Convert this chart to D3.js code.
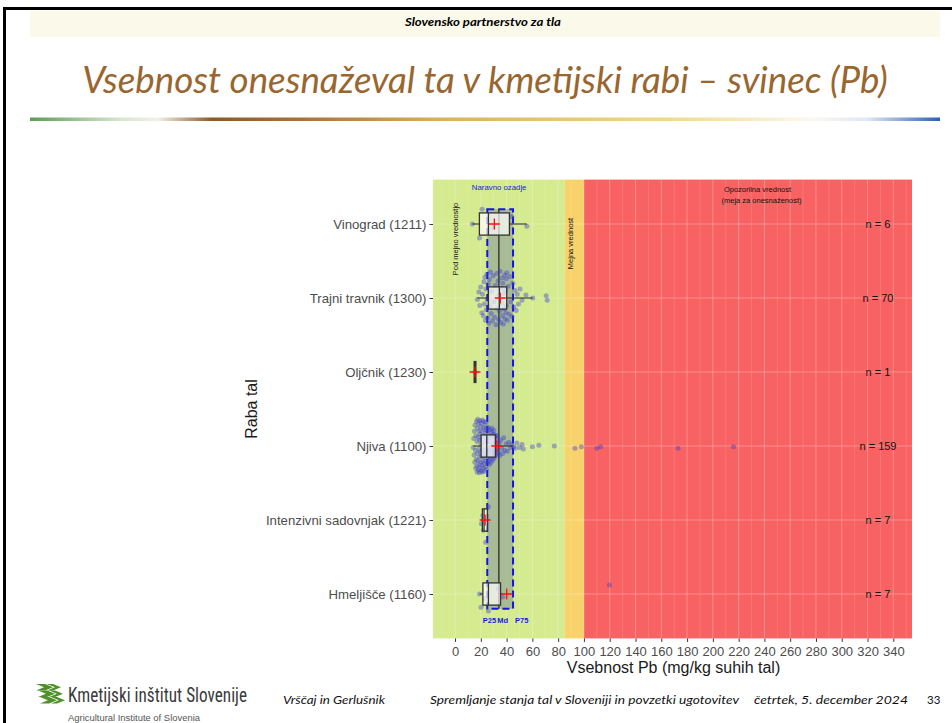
<!DOCTYPE html>
<html>
<head>
<meta charset="utf-8">
<title>Vsebnost onesnaževal - svinec (Pb)</title>
<style>
body { margin: 0; background: #ffffff; }
.slide { font-family: Lato, "Open Sans", sans-serif; }
.chart text { font-family: "Liberation Sans", Arial, sans-serif; }
</style>
<script src="https://d3js.org/d3.v7.min.js"></script>
</head>
<body>
<div id="slide"></div>
<script>
// land use categories (top to bottom) and sample counts
var categories = ["Vinograd (1211)", "Trajni travnik (1300)", "Oljčnik (1230)", "Njiva (1100)", "Intenzivni sadovnjak (1221)", "Hmeljišče (1160)"];
var counts = [6, 70, 1, 159, 7, 7];

// box plot statistics, Pb mg/kg
var whiskerLow  = [13.4, 17.3, 15.5, 14.2, 20.5, 19.0];
var q1          = [18.9, 25.9, 15.5, 20.2, 21.2, 21.6];
var median      = [25.9, 34.4, 15.5, 24.6, 22.5, 25.9];
var q3          = [42.2, 40.1, 15.5, 31.3, 25.1, 35.3];
var whiskerHigh = [55.7, 60.3, 15.5, 45.3, 25.9, 37.0];
var means       = [30.5, 35.1, 15.5, 32.4, 23.3, 40.1];

// natural background (P25, Md, P75) and limit values
var naturalP25 = 25, naturalMd = 34, naturalP75 = 45;
var limitValue = 85, warningValue = 100;

// x axis ticks
var xTicks = [0, 20, 40, 60, 80, 100, 120, 140, 160, 180, 200, 220, 240, 260, 280, 300, 320, 340];

// individual samples: [Pb value, vertical spread as share of row step]
var vinogradPts = [[13.4,0],[19,.19],[21,-.2],[30,.05],[44,-.1],[55.7,.03]];
var travnikPts = [
 [17.3,.02],[18.5,-.08],[19.2,.1],[20,-.15],[20.8,.2],[21.3,-.05],[21.9,.24],[22.4,-.22],[22.8,.08],[23.2,-.28],[23.6,.3],[24,-.12],[24.3,.16],[24.7,-.32],[25,.02],[25.3,.27],[25.7,-.19],
 [26.1,.34],[26.6,-.25],[27,.11],[27.5,-.35],[28,.21],[28.4,-.09],[29,.31],[29.5,-.3],[30,.05],[30.6,.26],[31.2,-.17],[31.8,.36],[32.3,-.33],[32.9,.14],[33.4,-.23],[33.9,.29],[34.3,-.04],
 [34.6,.18],[35,-.36],[35.3,.33],[35.7,-.13],[36,.07],[36.4,-.27],[36.8,.24],[37.1,-.2],[37.5,.35],[37.8,-.06],[38.1,.15],[38.5,-.31],[38.8,.28],[39.1,-.1],[39.4,.2],[39.7,-.26],[39.9,.1],[40.1,-.34],
 [40.6,.3],[41.2,-.16],[41.9,.22],[42.5,-.29],[43.3,.05],[44,.25],[44.8,-.2],[45.6,.12],[46.5,-.1],[47.4,.17],[48.3,-.05],[49.2,.08],[50.4,-.12],[52,.03],[55,-.04],[60.3,0],[70.7,-.03],[71.5,.03]];
var oljcnikPts = [[15.5,0]];
var njivaPts = [
 [14.2,.02],[14.5,-.1],[14.8,.12],[15,-.2],[15.3,.22],[15.5,-.28],[15.8,.06],[16,.3],[16.2,-.14],[16.4,.18],[16.6,-.33],[16.8,.27],[17,-.06],[17.1,.35],[17.3,-.24],[17.5,.1],[17.6,-.36],[17.8,.2],[18,-.12],[18.1,.32],[18.3,-.3],[18.4,.04],[18.6,.25],[18.7,-.2],[18.9,.36],[19,-.08],[19.1,.15],[19.3,-.34],[19.4,.29],[19.5,-.16],[19.7,.08],[19.8,-.26],[19.9,.22],[20,-.02],[20.1,.33],
 [20.3,-.31],[20.5,.14],[20.6,-.2],[20.8,.26],[20.9,-.09],[21.1,.35],[21.2,-.35],[21.4,.05],[21.5,.2],[21.7,-.25],[21.8,.3],[22,-.14],[22.1,.1],[22.3,-.33],[22.4,.24],[22.6,-.04],[22.7,.34],[22.9,-.22],[23,.16],[23.2,-.29],[23.3,.03],[23.5,.28],[23.6,-.17],[23.8,.21],[23.9,-.32],[24,.09],[24.1,-.1],[24.3,.31],[24.4,-.24],[24.5,.13],
 [24.8,-.2],[25,.23],[25.2,-.05],[25.5,.15],[25.7,-.25],[26,.08],[26.2,.2],[26.4,-.14],[26.7,.25],[27,-.22],[27.2,.02],[27.5,.17],[27.7,-.1],[28,.22],[28.2,-.19],[28.5,.06],[28.7,-.24],[29,.13],[29.2,-.03],[29.4,.19],[29.7,-.16],[29.9,.1],[30.1,-.21],[30.3,.04],[30.5,.16],[30.7,-.12],[30.9,.08],[31,-.06],[31.1,.13],[31.2,-.15],
 [31.6,.12],[32,-.1],[32.5,.05],[33,-.14],[33.6,.09],[34.2,-.04],[34.8,.13],[35.5,-.08],[36.2,.03],[37,.1],[37.8,-.11],[38.7,.06],[39.6,-.03],[40.6,.07],[41.7,-.05],[42.8,.02],[44,-.02],[45.3,.01],
 [46.5,.03],[48,-.04],[50,.02],[52,-.02],[53,.04],[60,.01],[65,-.01],[77,0],[93,.03],[98,.01],[110,.03],[113,.01],[173,.03],[216,.01]];
var sadovnjakPts = [[20.5,.05],[21.5,-.06],[22,.14],[22.5,-.02],[23.8,.3],[24.5,.04],[25.9,-.18]];
var hmeljPts = [[19,0],[20.2,.18],[23,.06],[25.9,.23],[33.6,-.07],[37,.04],[119.8,-.12]];
var pointSets = [vinogradPts, travnikPts, oljcnikPts, njivaPts, sadovnjakPts, hmeljPts];

var W = 952, H = 723;
var svg = d3.select("#slide").append("svg")
    .attr("width", W).attr("height", H)
    .attr("class", "slide");

// ---- slide frame and header ----
svg.append("path").attr("d", "M4.5,723V8.5H952").attr("fill", "none").attr("stroke", "#000").attr("stroke-width", 3);
svg.append("rect").attr("x", 30).attr("y", 11).attr("width", 910).attr("height", 26).attr("fill", "#fbf9ea");
svg.append("text").attr("x", 483).attr("y", 26).attr("text-anchor", "middle")
  .style("font-size", "10.5px").style("font-weight", "bold").style("font-style", "italic")
  .attr("textLength", 156).attr("lengthAdjust", "spacingAndGlyphs")
  .text("Slovensko partnerstvo za tla");

var title = svg.append("text").attr("x", 485).attr("y", 93).attr("text-anchor", "middle")
  .style("font-size", "34px").style("font-style", "italic").attr("fill", "#99662f")
  .text("Vsebnost onesnaževal ta v kmetijski rabi – svinec (Pb)");
var tl = title.node().getComputedTextLength();
title.style("font-size", (34 * 806 / tl) + "px");

var defs = svg.append("defs");
var grad = defs.append("linearGradient").attr("id", "rule");
[[0, "#5e9c55"], [0.1, "#d8e6cf"], [0.14, "#f4efe6"], [0.2, "#8a5a2c"], [0.3, "#a8733a"], [0.45, "#d9b060"], [0.7, "#f0d98c"], [0.86, "#fbf8ef"], [0.92, "#dfe8f4"], [1, "#2d5fb7"]]
  .forEach(function(s) { grad.append("stop").attr("offset", s[0]).attr("stop-color", s[1]); });
svg.append("rect").attr("x", 30).attr("y", 117.5).attr("width", 910).attr("height", 3.5).attr("fill", "url(#rule)");

// ---- chart ----
var chart = svg.append("g").attr("class", "chart");
var x = d3.scaleLinear().domain([-17.1, 354.5]).range([433, 912]);
var y = d3.scalePoint().domain(categories).range([179.6, 638.4]).padding(0.6);
var step = y.step();
var panelTop = y.range()[0], panelBottom = y.range()[1];

// coloured zones
var zones = [[x.domain()[0], limitValue, "#d5eb8f"], [limitValue, warningValue, "#f8d26b"], [warningValue, x.domain()[1], "#f96262"]];
chart.selectAll("rect.zone").data(zones).enter().append("rect")
  .attr("class", "zone")
  .attr("x", function(d) { return x(d[0]); })
  .attr("width", function(d) { return x(d[1]) - x(d[0]); })
  .attr("y", panelTop).attr("height", panelBottom - panelTop)
  .attr("fill", function(d) { return d[2]; });

// grid
var minor = d3.range(-10, 355, 20);
chart.selectAll("line.minor").data(minor).enter().append("line")
  .attr("x1", function(d) { return x(d); }).attr("x2", function(d) { return x(d); })
  .attr("y1", panelTop).attr("y2", panelBottom).attr("stroke", "#fff").attr("stroke-opacity", 0.22).attr("stroke-width", 0.6);
chart.selectAll("line.major").data(xTicks).enter().append("line")
  .attr("x1", function(d) { return x(d); }).attr("x2", function(d) { return x(d); })
  .attr("y1", panelTop).attr("y2", panelBottom).attr("stroke", "#fff").attr("stroke-opacity", 0.28).attr("stroke-width", 1);
chart.selectAll("line.hgrid").data(categories).enter().append("line")
  .attr("x1", 433).attr("x2", 912)
  .attr("y1", function(d) { return y(d); }).attr("y2", function(d) { return y(d); })
  .attr("stroke", "#fff").attr("stroke-opacity", 0.28).attr("stroke-width", 1);

// natural background band
var bandTop = y(categories[0]) - 0.2 * step, bandBottom = y(categories[categories.length - 1]) + 0.2 * step;
chart.append("rect")
  .attr("x", x(naturalP25)).attr("width", x(naturalP75) - x(naturalP25))
  .attr("y", bandTop).attr("height", bandBottom - bandTop)
  .attr("fill", "#7a8b9a").attr("fill-opacity", 0.5)
  .attr("stroke", "#1414e6").attr("stroke-width", 2).attr("stroke-dasharray", "7,4");
chart.append("line")
  .attr("x1", x(naturalMd)).attr("x2", x(naturalMd)).attr("y1", bandTop).attr("y2", bandBottom)
  .attr("stroke", "#2a2a2a").attr("stroke-width", 1.3);

// samples
pointSets.forEach(function(pts, i) {
  chart.append("g").selectAll("circle").data(pts).enter().append("circle")
    .attr("cx", function(d) { return x(d[0]); })
    .attr("cy", function(d) { return y(categories[i]) + d[1] * step; })
    .attr("r", 2.5)
    .attr("fill", "#3a3ad0").attr("fill-opacity", 0.4);
});

// box plots
var boxH = 0.3 * step;
categories.forEach(function(c, i) {
  var cy = y(c);
  var g = chart.append("g");
  g.append("line").attr("x1", x(whiskerLow[i])).attr("x2", x(q1[i])).attr("y1", cy).attr("y2", cy)
    .attr("stroke", "#333").attr("stroke-width", 1.1);
  g.append("line").attr("x1", x(q3[i])).attr("x2", x(whiskerHigh[i])).attr("y1", cy).attr("y2", cy)
    .attr("stroke", "#333").attr("stroke-width", 1.1);
  g.append("rect").attr("x", x(q1[i])).attr("width", x(q3[i]) - x(q1[i]))
    .attr("y", cy - boxH / 2).attr("height", boxH)
    .attr("fill", "#fff").attr("fill-opacity", 0.7)
    .attr("stroke", "#333").attr("stroke-width", q3[i] === q1[i] ? 3 : 1.3);
  g.append("line").attr("x1", x(median[i])).attr("x2", x(median[i]))
    .attr("y1", cy - boxH / 2).attr("y2", cy + boxH / 2)
    .attr("stroke", "#333").attr("stroke-width", q3[i] === q1[i] ? 3 : 1.3);
  // mean
  var mx = x(means[i]);
  g.append("path").attr("d", "M" + (mx - 5.5) + "," + cy + "H" + (mx + 5.5) + "M" + mx + "," + (cy - 5.5) + "V" + (cy + 5.5))
    .attr("stroke", "#ff1010").attr("stroke-width", 1.3).attr("fill", "none");
});

// n labels
chart.selectAll("text.n").data(categories).enter().append("text")
  .attr("x", 878).attr("y", function(d) { return y(d) + 4; })
  .attr("text-anchor", "middle").style("font-size", "11px").attr("fill", "#111")
  .text(function(d, i) { return "n = " + counts[i]; });

// annotations
chart.append("text").attr("x", x(naturalMd) + 0.3).attr("y", 189.5).attr("text-anchor", "middle")
  .style("font-size", "7.8px").attr("fill", "#1a1ae0").text("Naravno ozadje");
chart.append("text").attr("transform", "translate(458,239) rotate(-90)").attr("text-anchor", "middle")
  .style("font-size", "7.5px").attr("fill", "#111").text("Pod mejno vrednostjo");
chart.append("text").attr("transform", "translate(572.5,243.5) rotate(-90)").attr("text-anchor", "middle")
  .style("font-size", "7.5px").attr("fill", "#111").text("Mejna vrednost");
chart.append("text").attr("x", 757.5).attr("y", 191.5).attr("text-anchor", "middle")
  .style("font-size", "7.5px").attr("fill", "#111").text("Opozorilna vrednost");
chart.append("text").attr("x", 761.5).attr("y", 202.5).attr("text-anchor", "middle")
  .style("font-size", "7.5px").attr("fill", "#111").text("(meja za onesnaženost)");
var pl = chart.append("g").style("font-size", "7.5px").style("font-weight", "bold").attr("fill", "#1a1ae0");
pl.append("text").attr("x", x(naturalP25) - 4.5).attr("y", 623).text("P25");
pl.append("text").attr("x", x(naturalMd) - 1.5).attr("y", 623).text("Md");
pl.append("text").attr("x", x(naturalP75) + 2).attr("y", 623).text("P75");

// axes
var xAxis = chart.append("g").attr("transform", "translate(0," + panelBottom + ")")
  .call(d3.axisBottom(x).tickValues(xTicks).tickSize(3.5).tickPadding(5));
xAxis.select(".domain").remove();
xAxis.selectAll("line").attr("stroke", "#333");
xAxis.selectAll("text").style("font-size", "13px").attr("fill", "#4d4d4d");

var yAxis = chart.append("g").attr("transform", "translate(433,0)")
  .call(d3.axisLeft(y).tickSize(3.5).tickPadding(3));
yAxis.select(".domain").remove();
yAxis.selectAll("line").attr("stroke", "#333");
yAxis.selectAll("text").style("font-size", "13.2px").attr("fill", "#4d4d4d");

chart.append("text").attr("x", 673.5).attr("y", 673).attr("text-anchor", "middle")
  .style("font-size", "16px").attr("fill", "#1a1a1a").text("Vsebnost Pb (mg/kg suhih tal)");
chart.append("text").attr("transform", "translate(257,409) rotate(-90)").attr("text-anchor", "middle")
  .style("font-size", "16px").attr("fill", "#1a1a1a").text("Raba tal");

// ---- footer ----
var logo = svg.append("g").attr("fill", "#4f8f2c");
[0, 1, 2].forEach(function(k) {
  var oy = 684 + k * 6.5;
  logo.append("path").attr("d", "M" + (36 + k * 2) + "," + oy + "h9l8,3.2l-8,3.2h-9l8,-3.2z");
  logo.append("path").attr("d", "M" + (47 + k * 2) + "," + oy + "h6l8,3.2l-8,3.2h-6l8,-3.2z");
});
svg.append("text").attr("x", 68).attr("y", 702)
  .style("font-family", "'Liberation Sans Narrow', 'Roboto Condensed', Roboto, sans-serif")
  .style("font-size", "20px").attr("fill", "#3a3a3a")
  .attr("textLength", 179).attr("lengthAdjust", "spacingAndGlyphs")
  .text("Kmetijski inštitut Slovenije");
svg.append("text").attr("x", 68).attr("y", 721)
  .style("font-family", "'Liberation Sans', Arial, sans-serif").style("font-size", "8.5px").attr("fill", "#555")
  .attr("textLength", 132).attr("lengthAdjust", "spacingAndGlyphs")
  .text("Agricultural Institute of Slovenia");

var foot = svg.append("g").style("font-size", "11.5px").style("font-style", "italic").attr("fill", "#111");
foot.append("text").attr("x", 283).attr("y", 704).attr("textLength", 102).attr("lengthAdjust", "spacingAndGlyphs").text("Vrščaj in Gerlušnik");
foot.append("text").attr("x", 430).attr("y", 704).attr("textLength", 309).attr("lengthAdjust", "spacingAndGlyphs").text("Spremljanje stanja tal v Sloveniji in povzetki ugotovitev");
foot.append("text").attr("x", 754).attr("y", 704).attr("textLength", 154).attr("lengthAdjust", "spacingAndGlyphs").text("četrtek, 5. december 2024");
svg.append("text").attr("x", 927).attr("y", 704).style("font-size", "11.5px").attr("fill", "#111").text("33");
</script>
</body>
</html>
